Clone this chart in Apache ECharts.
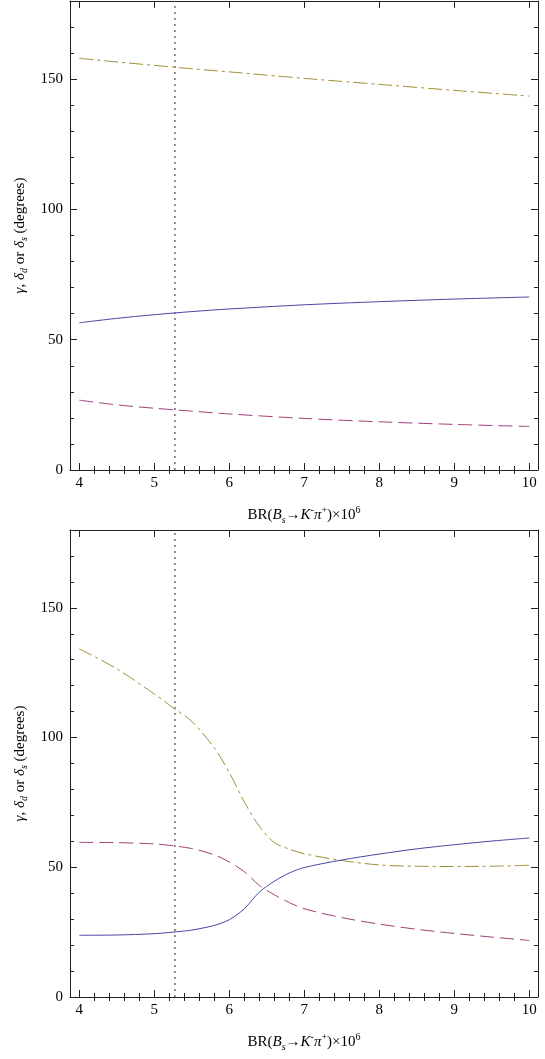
<!DOCTYPE html>
<html>
<head>
<meta charset="utf-8">
<script src="https://cdn.jsdelivr.net/npm/echarts@6/dist/echarts.min.js"></script>
<style>
  html, body { margin: 0; padding: 0; background: #fff; }
  #chart { width: 545px; height: 1059px; }
</style>
</head>
<body>
<div id="chart"></div>
<script>
// valores
const xMin = 3.876, xMax = 10.116;
const yMin = 0, yMax = 180;
const xMajor = [4, 5, 6, 7, 8, 9, 10];
const xMinor = [4.2, 4.4, 4.6, 4.8, 5.2, 5.4, 5.6, 5.8, 6.2, 6.4, 6.6, 6.8,
                7.2, 7.4, 7.6, 7.8, 8.2, 8.4, 8.6, 8.8, 9.2, 9.4, 9.6, 9.8];
const yMajor = [0, 50, 100, 150];
const yMinor = [10, 20, 30, 40, 60, 70, 80, 90, 110, 120, 130, 140, 160, 170];
const brLine = 5.275;

// panel superior
const brTop = [4, 4.5, 5, 5.5, 6, 7, 8, 9, 10];
const gammaTop  = [56.5, 58.2, 59.6, 60.8, 61.8, 63.4, 64.6, 65.6, 66.4];
const deltaDTop = [26.8, 25.0, 23.7, 22.6, 21.5, 19.8, 18.5, 17.5, 16.7];
const deltaSTop = [158.0, 156.6, 155.3, 154.0, 152.8, 150.3, 148.0, 145.7, 143.5];

// panel inferior
const brBot = [4, 4.5, 5, 5.25, 5.5, 5.8, 6, 6.2, 6.4, 6.6, 6.8, 7, 7.5, 8, 8.5, 9, 9.5, 10];
const gammaBot  = [23.8, 23.9, 24.4, 25.0, 25.8, 27.6, 29.8, 34.0, 40.4, 44.6, 47.8, 49.9, 52.8, 55.1, 57.1, 58.7, 60.1, 61.3];
const deltaDBot = [59.6, 59.5, 59.0, 58.3, 57.2, 54.8, 52.0, 48.3, 43.0, 39.4, 36.4, 34.0, 30.6, 28.1, 26.1, 24.5, 23.1, 21.8];
const deltaSBot = [134.2, 126.5, 116.8, 111.5, 106.2, 96.0, 86.5, 75.2, 65.8, 59.5, 57.0, 55.2, 52.6, 50.9, 50.4, 50.3, 50.4, 50.8];

const BLUE = '#4646a6', MAGENTA = '#a0407a', GOLD = '#a0903a';
const SERIF = "'Liberation Serif', 'DejaVu Serif', serif";

const zip = (xs, ys) => xs.map((x, i) => [x, ys[i]]);

const nameRich = {
  r:   { fontFamily: SERIF, fontSize: 15, color: '#000', lineHeight: 20 },
  i:   { fontFamily: SERIF, fontSize: 15, color: '#000', fontStyle: 'italic', lineHeight: 20 },
  sup: { fontFamily: SERIF, fontSize: 10, color: '#000', verticalAlign: 'top', lineHeight: 11 },
  sub: { fontFamily: SERIF, fontSize: 10, color: '#000', fontStyle: 'italic', verticalAlign: 'bottom', lineHeight: 13 }
};
const yRich = {
  r:   { fontFamily: SERIF, fontSize: 15, color: '#000', lineHeight: 19 },
  i:   { fontFamily: SERIF, fontSize: 15, color: '#000', fontStyle: 'italic', lineHeight: 19 },
  sub: { fontFamily: SERIF, fontSize: 10, color: '#000', fontStyle: 'italic', verticalAlign: 'bottom', lineHeight: 13 }
};
const tickFont = { fontFamily: SERIF, fontSize: 15, color: '#000' };

const grids = [
  { left: 70, right: 7, top: 1, height: 469 },
  { left: 70, right: 7, top: 530, height: 467 }
];

const xAxes = [], yAxes = [];
grids.forEach((g, gi) => {
  const base = { type: 'value', gridIndex: gi, min: xMin, max: xMax, splitLine: { show: false }, offset: 0 };
  const line = { show: true, onZero: false, lineStyle: { color: '#222', width: 1 } };
  xAxes.push(Object.assign({}, base, {
    position: 'bottom',
    axisLine: line,
    axisTick: { inside: true, length: 7, customValues: xMajor, lineStyle: { color: '#222' } },
    axisLabel: Object.assign({ customValues: xMajor, margin: 6 }, tickFont),
    name: '{r|BR(}{i|B}{sub|s}{r|→}{i|K}{sup|-}{i|π}{sup|+}{r|)×10}{sup|6}',
    nameLocation: 'middle', nameGap: 35,
    nameTextStyle: { rich: nameRich }
  }));
  xAxes.push(Object.assign({}, base, {
    position: 'bottom',
    axisLine: { show: false },
    axisTick: { inside: true, length: 4, customValues: xMinor, lineStyle: { color: '#222' } },
    axisLabel: { show: false }
  }));
  xAxes.push(Object.assign({}, base, {
    position: 'top',
    axisLine: line,
    axisTick: { inside: true, length: 7, customValues: xMajor, lineStyle: { color: '#222' } },
    axisLabel: { show: false }
  }));
  xAxes.push(Object.assign({}, base, {
    position: 'top',
    axisLine: { show: false },
    axisTick: { inside: true, length: 4, customValues: xMinor, lineStyle: { color: '#222' } },
    axisLabel: { show: false }
  }));

  const ybase = { type: 'value', gridIndex: gi, min: yMin, max: yMax, splitLine: { show: false }, offset: 0 };
  yAxes.push(Object.assign({}, ybase, {
    position: 'left',
    axisLine: line,
    axisTick: { inside: true, length: 7, customValues: yMajor, lineStyle: { color: '#222' } },
    axisLabel: Object.assign({ customValues: yMajor, margin: 7 }, tickFont),
    name: '{i|γ}{r|, }{i|δ}{sub|d}{r| or }{i|δ}{sub|s}{r| (degrees)}',
    nameLocation: 'middle', nameGap: 39, nameRotate: 90,
    nameTextStyle: { rich: yRich }
  }));
  yAxes.push(Object.assign({}, ybase, {
    position: 'left',
    axisLine: { show: false },
    axisTick: { inside: true, length: 4, customValues: yMinor, lineStyle: { color: '#222' } },
    axisLabel: { show: false }
  }));
  yAxes.push(Object.assign({}, ybase, {
    position: 'right',
    axisLine: line,
    axisTick: { inside: true, length: 7, customValues: yMajor, lineStyle: { color: '#222' } },
    axisLabel: { show: false }
  }));
  yAxes.push(Object.assign({}, ybase, {
    position: 'right',
    axisLine: { show: false },
    axisTick: { inside: true, length: 4, customValues: yMinor, lineStyle: { color: '#222' } },
    axisLabel: { show: false }
  }));
});

function curve(gi, data, color, type) {
  return {
    type: 'line', xAxisIndex: gi * 4, yAxisIndex: gi * 4,
    data: data, showSymbol: false, smooth: 0.3, silent: true,
    lineStyle: { color: color, width: 1, type: type }
  };
}
function vline(gi) {
  return {
    type: 'line', xAxisIndex: gi * 4, yAxisIndex: gi * 4,
    data: [[brLine, yMin], [brLine, yMax]], showSymbol: false, silent: true,
    lineStyle: { color: '#555', width: 1.3, type: [2, 4] }
  };
}

const chart = echarts.init(document.getElementById('chart'), null, { renderer: 'canvas' });
chart.setOption({
  animation: false,
  backgroundColor: '#fff',
  grid: grids,
  xAxis: xAxes,
  yAxis: yAxes,
  series: [
    vline(0),
    curve(0, zip(brTop, deltaSTop), GOLD, [14, 4, 3, 4]),
    curve(0, zip(brTop, gammaTop), BLUE, 'solid'),
    curve(0, zip(brTop, deltaDTop), MAGENTA, [14, 6]),
    vline(1),
    curve(1, zip(brBot, deltaSBot), GOLD, [14, 4, 3, 4]),
    curve(1, zip(brBot, gammaBot), BLUE, 'solid'),
    curve(1, zip(brBot, deltaDBot), MAGENTA, [14, 6])
  ]
});
</script>
</body>
</html>
